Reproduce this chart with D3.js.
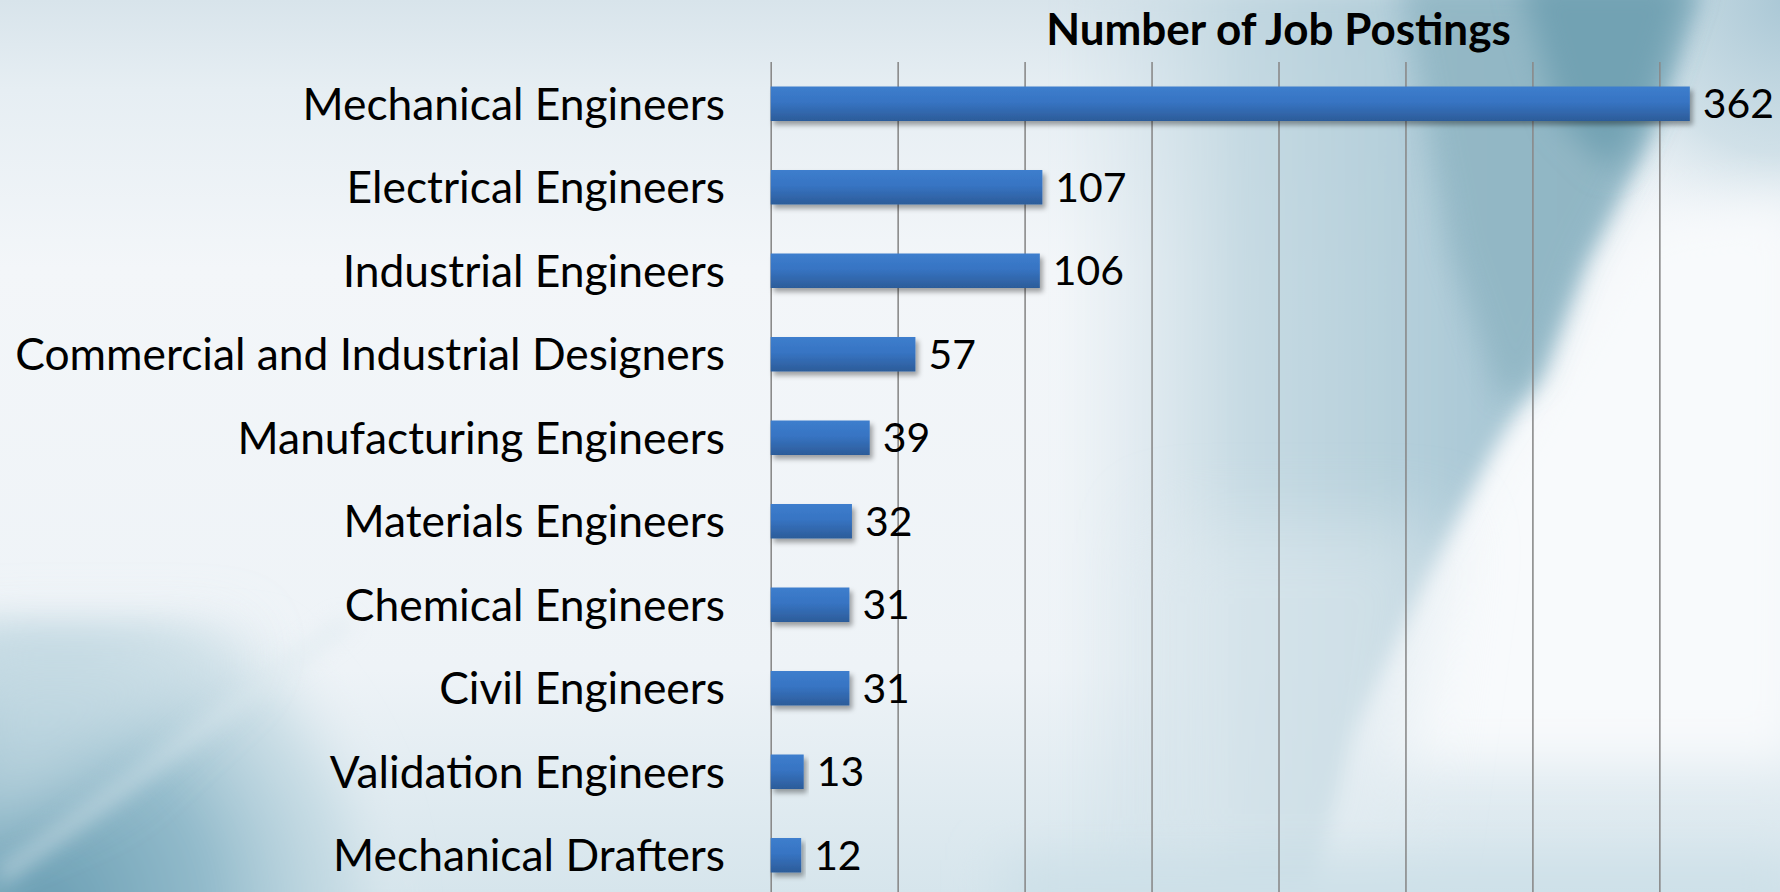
<!DOCTYPE html>
<html>
<head>
<meta charset="utf-8">
<script src="https://cdn.jsdelivr.net/npm/d3@7"></script>
<style>
  html, body { margin: 0; padding: 0; background: #eef3f7; overflow: hidden; }
  svg { display: block; }
</style>
</head>
<body>
<svg id="chart" width="1780" height="892"></svg>
<script>
// ---- data ----
const categories = [
  "Mechanical Engineers",
  "Electrical Engineers",
  "Industrial Engineers",
  "Commercial and Industrial Designers",
  "Manufacturing Engineers",
  "Materials Engineers",
  "Chemical Engineers",
  "Civil Engineers",
  "Validation Engineers",
  "Mechanical Drafters"
];
const values = [362, 107, 106, 57, 39, 32, 31, 31, 13, 12];
const tickValues = [0, 50, 100, 150, 200, 250, 300, 350];
const chartTitle = "Number of Job Postings";

const W = 1780, H = 892;
const svg = d3.select("#chart");
const defs = svg.append("defs");

// ---- background ----
const bgGrad = defs.append("linearGradient").attr("id", "bgGrad")
  .attr("x1", 0).attr("y1", 0).attr("x2", 0).attr("y2", 1);
bgGrad.append("stop").attr("offset", 0).attr("stop-color", "#d8e4eb");
bgGrad.append("stop").attr("offset", 0.1).attr("stop-color", "#e6eef3");
bgGrad.append("stop").attr("offset", 0.3).attr("stop-color", "#f3f6f9");
bgGrad.append("stop").attr("offset", 0.75).attr("stop-color", "#eef3f7");
bgGrad.append("stop").attr("offset", 1).attr("stop-color", "#d6e5ec");

[["blur50", 50], ["blur35", 35], ["blur25", 25], ["blur15", 15], ["blur10", 10]].forEach(([id, s]) => {
  defs.append("filter").attr("id", id)
    .attr("x", "-50%").attr("y", "-50%").attr("width", "200%").attr("height", "200%")
    .append("feGaussianBlur").attr("stdDeviation", s);
});

const tealGrad = defs.append("linearGradient").attr("id", "tealGrad")
  .attr("gradientUnits", "userSpaceOnUse")
  .attr("x1", 1060).attr("y1", 0).attr("x2", 1580).attr("y2", 0);
tealGrad.append("stop").attr("offset", 0).attr("stop-color", "#c9dce5").attr("stop-opacity", 0);
tealGrad.append("stop").attr("offset", 0.35).attr("stop-color", "#bcd4de").attr("stop-opacity", 0.8);
tealGrad.append("stop").attr("offset", 1).attr("stop-color", "#9dc0cf").attr("stop-opacity", 1);

const cornerGrad = defs.append("radialGradient").attr("id", "cornerGrad")
  .attr("gradientUnits", "userSpaceOnUse")
  .attr("cx", 1790).attr("cy", 0).attr("r", 260);
cornerGrad.append("stop").attr("offset", 0).attr("stop-color", "#a9c7d5").attr("stop-opacity", 1);
cornerGrad.append("stop").attr("offset", 0.6).attr("stop-color", "#c6dae3").attr("stop-opacity", 0.7);
cornerGrad.append("stop").attr("offset", 1).attr("stop-color", "#eef3f7").attr("stop-opacity", 0);

const blGrad = defs.append("radialGradient").attr("id", "blGrad")
  .attr("gradientUnits", "userSpaceOnUse")
  .attr("cx", 40).attr("cy", 910).attr("r", 380);
blGrad.append("stop").attr("offset", 0).attr("stop-color", "#6a9eb3").attr("stop-opacity", 1);
blGrad.append("stop").attr("offset", 0.45).attr("stop-color", "#93bbcb").attr("stop-opacity", 1);
blGrad.append("stop").attr("offset", 0.8).attr("stop-color", "#bdd6e0").attr("stop-opacity", 0.6);
blGrad.append("stop").attr("offset", 1).attr("stop-color", "#e8f0f4").attr("stop-opacity", 0);

const bg = svg.append("g");
bg.append("rect").attr("width", W).attr("height", H).attr("fill", "url(#bgGrad)");

const line = d3.line();
// top-right corner light blue (right of the sweep)
bg.append("rect").attr("x", 1500).attr("y", 0).attr("width", 280).attr("height", 300)
  .attr("fill", "url(#cornerGrad)");
// white area right of the diagonal edge
bg.append("path").attr("d", line([[1640,220],[1800,200],[1800,760],[1380,760],[1480,480]]) + "Z")
  .attr("fill", "#f8fafc").attr("filter", "url(#blur25)");
// teal sweep left of the edge
const edge = [[1700,-10],[1640,150],[1583,260],[1537,380],[1493,450],[1420,590],[1353,733],[1310,900]];
bg.append("path").attr("d", line([[1060,-10], ...edge, [1060,900]]) + "Z")
  .attr("fill", "url(#tealGrad)").attr("filter", "url(#blur10)");
// darker upper teal
bg.append("path").attr("d", line([[1400,-20],[1700,-20],[1640,150],[1583,260],[1537,380],[1500,400],[1450,250]]) + "Z")
  .attr("fill", "#8fb5c3").attr("opacity", 0.85).attr("filter", "url(#blur15)");
bg.append("path").attr("d", line([[1520,-20],[1690,-20],[1650,110],[1610,170],[1560,120]]) + "Z")
  .attr("fill", "#72a2b3").attr("filter", "url(#blur15)");
// soften lower part of the sweep
bg.append("path").attr("d", line([[1150,520],[1450,520],[1400,892],[1150,892]]) + "Z")
  .attr("fill", "#e4edf2").attr("opacity", 0.5).attr("filter", "url(#blur35)");
// bluish band along the bottom right
bg.append("rect").attr("x", 1000).attr("y", 860).attr("width", 800).attr("height", 80)
  .attr("fill", "#cde0e8").attr("filter", "url(#blur25)");

// bottom-left teal
bg.append("path").attr("d", line([[-40,620],[380,620],[560,930],[-40,930]]) + "Z")
  .attr("fill", "url(#blGrad)").attr("filter", "url(#blur15)");
// light zone above-left of the diagonal edge
bg.append("path").attr("d", line([[-40,640],[250,640],[100,780],[-40,840]]) + "Z")
  .attr("fill", "#d3e3ea").attr("opacity", 0.6).attr("filter", "url(#blur35)");
// soft light streak on the edge
bg.append("path").attr("d", line([[0,866],[115,782],[340,616],[356,626],[125,796],[0,886]]) + "Z")
  .attr("fill", "#dbe8ee").attr("opacity", 0.5).attr("filter", "url(#blur10)");

// ---- scales ----
const x = d3.scaleLinear().domain([0, 400]).range([770.7, 1786.3]);
const y = d3.scaleBand().domain(categories).range([62, 897])
  .paddingInner(0.587).paddingOuter(0.2935);

// ---- gridlines ----
const grid = svg.append("g").attr("transform", `translate(0,${H})`)
  .call(d3.axisBottom(x).tickValues(tickValues).tickSize(-(H - 62)).tickFormat(""));
grid.select(".domain").remove();
grid.selectAll(".tick line").attr("stroke", "#8a8a8a").attr("stroke-width", 1.6);

// ---- bars ----
const barGrad = defs.append("linearGradient").attr("id", "barGrad")
  .attr("x1", 0).attr("y1", 0).attr("x2", 0).attr("y2", 1);
barGrad.append("stop").attr("offset", 0).attr("stop-color", "#3d7ecd");
barGrad.append("stop").attr("offset", 0.45).attr("stop-color", "#3774c3");
barGrad.append("stop").attr("offset", 1).attr("stop-color", "#2c5c99");

const sh = defs.append("filter").attr("id", "shadow")
  .attr("x", "-5%").attr("y", "-20%").attr("width", "120%").attr("height", "160%");
sh.append("feDropShadow").attr("dx", 3).attr("dy", 4).attr("stdDeviation", 2.5)
  .attr("flood-color", "#000").attr("flood-opacity", 0.35);

svg.append("g").selectAll("rect").data(values).join("rect")
  .attr("x", x(0))
  .attr("y", (d, i) => y(categories[i]))
  .attr("width", d => x(d) - x(0))
  .attr("height", y.bandwidth())
  .attr("fill", "url(#barGrad)")
  .attr("filter", "url(#shadow)");

// ---- text ----
const FONT = "Lato, 'Open Sans', sans-serif";
function measure(txt, weight) {
  const t = svg.append("text").attr("font-family", FONT).attr("font-weight", weight || 400)
    .attr("font-size", 100).text(txt);
  const w = t.node().getComputedTextLength();
  t.remove();
  return w;
}
const labelSize = Math.min(50, 710 / measure(categories[3]) * 100);
const maxVal = d3.max(values);
const valueGap = 13;
const valueSize = Math.min(labelSize, (W - 6 - x(maxVal) - valueGap) / measure(String(maxVal)) * 100);
const titleSize = Math.min(44, 468 / measure(chartTitle, 700) * 100);

svg.append("g").selectAll("text").data(categories).join("text")
  .attr("x", 725)
  .attr("y", d => y(d) + y.bandwidth() / 2)
  .attr("dy", "0.36em")
  .attr("text-anchor", "end")
  .attr("font-family", FONT)
  .attr("font-size", labelSize)
  .attr("fill", "#000")
  .text(d => d);

svg.append("g").selectAll("text").data(values).join("text")
  .attr("x", d => x(d) + valueGap)
  .attr("y", (d, i) => y(categories[i]) + y.bandwidth() / 2)
  .attr("dy", "0.36em")
  .attr("font-family", FONT)
  .attr("font-size", valueSize)
  .attr("fill", "#000")
  .text(d => d);

svg.append("text")
  .attr("x", (x(0) + x(400)) / 2)
  .attr("y", 45)
  .attr("text-anchor", "middle")
  .attr("font-family", FONT)
  .attr("font-weight", 700)
  .attr("font-size", titleSize)
  .attr("fill", "#000")
  .text(chartTitle);
</script>
</body>
</html>
